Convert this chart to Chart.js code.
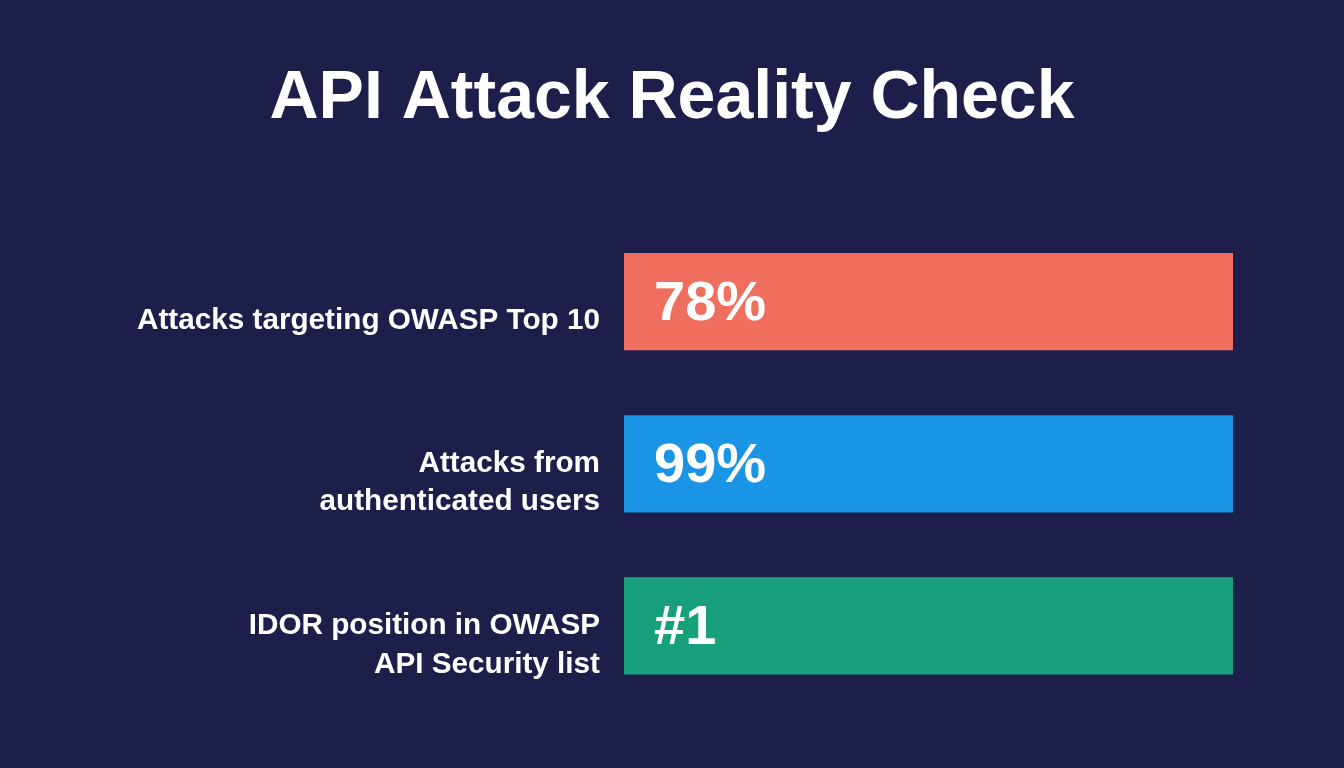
<!DOCTYPE html>
<html>
<head>
<meta charset="utf-8">
<script src="https://cdn.jsdelivr.net/npm/chart.js@4/dist/chart.umd.min.js"></script>
<style>
    html, body { margin: 0; padding: 0; background: #1e1e4b; }
    #wrap { width: 1344px; height: 768px; }
</style>
</head>
<body>
<div id="wrap"><canvas id="chart-reality"></canvas></div>
<script>
// Data dari gambar
const categories = [
    'Attacks targeting OWASP Top 10',
    ['Attacks from', 'authenticated users'],
    ['IDOR position in OWASP', 'API Security list']
];
const barValues = [100, 100, 100];
const valueLabels = ['78%', '99%', '#1'];
const barColors = ['#f06e5e', '#1a94e5', '#18a07d'];

// Plugin untuk teks nilai di dalam bar
const valueTextPlugin = {
    id: 'valueText',
    afterDatasetsDraw(chart) {
        const ctx = chart.ctx;
        const meta = chart.getDatasetMeta(0);
        ctx.save();
        ctx.fillStyle = '#ffffff';
        ctx.font = 'bold 56px "Liberation Sans", Arial, sans-serif';
        ctx.textAlign = 'left';
        ctx.textBaseline = 'middle';
        meta.data.forEach((bar, i) => {
            const left = Math.min(bar.x, bar.base);
            ctx.fillText(valueLabels[i], left + 30, bar.y + 3);
        });
        ctx.restore();
    }
};

new Chart(document.getElementById('chart-reality'), {
    type: 'bar',
    data: {
        labels: categories,
        datasets: [{
            data: barValues,
            backgroundColor: barColors,
            borderWidth: 0,
            categoryPercentage: 0.6,
            barPercentage: 1
        }]
    },
    options: {
        indexAxis: 'y',
        responsive: true,
        maintainAspectRatio: false,
        animation: false,
        layout: {
            padding: { left: 111, right: 111, top: 0, bottom: 61 }
        },
        plugins: {
            legend: { display: false },
            tooltip: { enabled: false },
            title: {
                display: true,
                text: 'API Attack Reality Check',
                color: '#ffffff',
                font: { family: '"Liberation Sans", Arial, sans-serif', size: 68, weight: 'bold', lineHeight: 1.2 },
                padding: { top: 58, bottom: 81 }
            }
        },
        scales: {
            x: {
                display: false,
                min: 0,
                max: 100
            },
            y: {
                grid: { display: false },
                border: { display: false },
                afterFit(axis) { axis.width = 513; },
                ticks: {
                    color: '#ffffff',
                    padding: 16,
                    labelOffset: 19,
                    font: { family: '"Liberation Sans", Arial, sans-serif', size: 29.7, weight: 'bold', lineHeight: 1.31 }
                }
            }
        }
    },
    plugins: [valueTextPlugin]
});
</script>
</body>
</html>
